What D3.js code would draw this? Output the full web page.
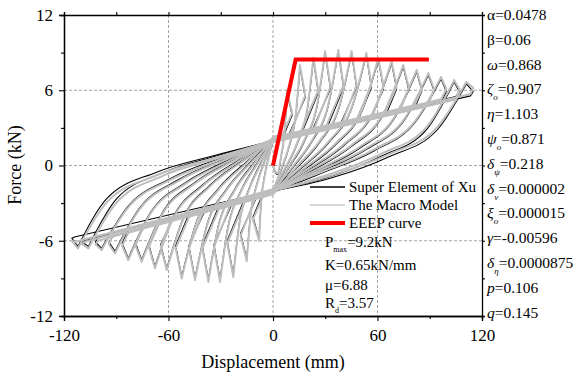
<!DOCTYPE html>
<html>
<head>
<meta charset="utf-8">
<script src="https://cdn.jsdelivr.net/npm/d3@7"></script>
<style>
  body { margin: 0; background: #fff; }
  svg { font-family: "Liberation Serif", "Times New Roman", serif; }
</style>
</head>
<body>
<svg id="chart" width="584" height="376"></svg>
<script>
// displacement of each cycle's force peak and of its turning point (mm)
var tipDispPos = [8.0, 15.5, 23.2, 29.9, 37.5, 45.1, 53.6, 60.5, 68.1, 74.8, 82.5, 89.2, 96.5, 104.0, 111.0];
var ampPos = [11.0, 18.5, 26.0, 33.0, 40.5, 48.0, 56.5, 63.5, 71.0, 78.0, 85.5, 92.5, 99.5, 107.0, 115.0];
var tipDispNeg = [-8.0, -15.1, -22.8, -30.4, -37.1, -44.8, -52.4, -61.0, -67.8, -75.4, -83.1, -90.7, -98.4, -106.0, -112.0];
var ampNeg = [-11.5, -18.6, -26.3, -33.9, -40.6, -48.3, -55.9, -64.5, -71.3, -78.9, -86.6, -94.2, -101.9, -109.5, -115.5];
// where unloading joins the pinched band (mm)
var unloadDispPos = [5.2, 9.0, 16.0, 22.8, 30.7, 39.0, 48.3, 56.4, 64.6, 72.6, 81.2, 88.9, 96.6, 104.9, 113.4];
var unloadDispNeg = [-5.8, -9.6, -16.3, -23.8, -31.0, -39.6, -48.1, -58.1, -65.7, -74.5, -83.1, -91.9, -100.5, -108.5, -114.0];
// reloading branch sampled at these fractions of the peak displacement
var reloadFrac = [0.3, 0.6, 0.85];

// The Macro Model (gray)
var macroPeakPos = [6.0, 8.0, 8.6, 9.1, 9.2, 9.1, 8.95, 8.55, 8.3, 8.0, 7.6, 7.35, 7.05, 6.8, 6.65];
var macroPeakNeg = [-6.0, -7.6, -8.87, -9.26, -9.26, -9.13, -9.0, -8.33, -8.2, -7.67, -7.54, -7.0, -6.74, -6.6, -6.6];
var macroEndPos = [4.2, 5.6, 6.0, 6.3, 6.4, 6.4, 6.4, 6.3, 6.3, 6.2, 6.1, 6.1, 6.1, 6.1, 6.2];
var macroEndNeg = [-4.3, -5.6, -6.2, -6.5, -6.6, -6.6, -6.6, -6.5, -6.5, -6.4, -6.4, -6.3, -6.3, -6.3, -6.0];
var macroReloadPos = [[-0.64, 0.88, 2.96], [-0.3, 1.6, 4.2], [-0.2, 1.82, 4.57], [-0.11, 2.0, 4.88], [-0.1, 2.03, 4.94],
  [-0.11, 2.0, 4.88], [-0.14, 1.94, 4.79], [-0.21, 1.8, 4.54], [-0.25, 1.71, 4.39], [-0.3, 1.6, 4.2],
  [-0.37, 1.46, 3.95], [-0.41, 1.37, 3.8], [-0.46, 1.26, 3.61], [-0.75, 0.95, 3.1], [-0.8, 0.9, 3.05]];
var macroReloadNeg = [[0.64, -0.88, -2.96], [0.37, -1.46, -3.95], [0.15, -1.91, -4.74], [0.09, -2.05, -4.98], [0.09, -2.05, -4.98],
  [0.11, -2.01, -4.9], [0.13, -1.96, -4.82], [0.24, -1.72, -4.4], [0.27, -1.67, -4.32], [0.36, -1.48, -4.0],
  [0.38, -1.43, -3.91], [0.47, -1.24, -3.58], [0.51, -1.15, -3.42], [0.58, -0.85, -3.0], [0.6, -0.8, -2.9]];
var macroUnloadPos = [2.35, 2.2, 2.7, 2.65, 3.2, 3.15, 3.75, 3.7, 4.27, 4.22, 4.8, 4.75, 5.29, 5.26, 5.7];
var macroUnloadNeg = [-2.5, -2.4, -2.9, -2.9, -3.45, -3.5, -4.08, -4.18, -4.73, -4.8, -5.37, -5.45, -6.0, -6.1, -6.1];
var macroPinchPos = [2.2, 2.0, 2.3, 2.0, 2.25, 1.95, 2.2, 1.9, 2.15, 1.9, 2.1, 1.85, 2.05, 1.9, 2.0];
var macroPinchNeg = [-2.1, -1.9, -2.2, -2.0, -2.3, -2.0, -2.2, -1.95, -2.15, -2.0, -2.1, -1.9, -2.05, -2.0, -2.0];

// Super Element of Xu (black)
var xuPeakPos = [5.85, 7.85, 8.45, 8.95, 9.05, 8.95, 8.8, 8.4, 8.15, 7.85, 7.45, 7.2, 6.9, 6.65, 6.5];
var xuPeakNeg = [-5.85, -7.45, -8.7, -9.1, -9.1, -8.98, -8.85, -8.2, -8.05, -7.52, -7.4, -6.85, -6.6, -6.45, -6.45];
var xuEndPos = [4.0, 5.4, 5.8, 6.1, 6.2, 6.2, 6.2, 6.1, 6.1, 6.0, 5.95, 5.95, 5.9, 5.9, 5.9];
var xuEndNeg = [-4.1, -5.4, -6.0, -6.3, -6.4, -6.4, -6.4, -6.3, -6.3, -6.2, -6.2, -6.1, -6.1, -6.1, -5.8];
var xuReloadPos = [[-0.74, 0.78, 2.86], [-0.4, 1.5, 4.1], [-0.3, 1.72, 4.47], [-0.21, 1.9, 4.78], [-0.2, 1.93, 4.84],
  [-0.21, 1.9, 4.78], [-0.24, 1.84, 4.69], [-0.31, 1.7, 4.44], [-0.35, 1.61, 4.29], [-0.4, 1.5, 4.1],
  [-0.47, 1.36, 3.85], [-0.51, 1.27, 3.7], [-0.56, 1.16, 3.51], [-0.95, 0.75, 2.9], [-1.0, 0.7, 2.85]];
var xuReloadNeg = [[0.74, -0.78, -2.86], [0.47, -1.36, -3.85], [0.25, -1.81, -4.64], [0.19, -1.95, -4.88], [0.19, -1.95, -4.88],
  [0.21, -1.91, -4.8], [0.23, -1.86, -4.72], [0.34, -1.62, -4.3], [0.37, -1.57, -4.22], [0.46, -1.38, -3.9],
  [0.48, -1.33, -3.81], [0.57, -1.14, -3.48], [0.61, -1.05, -3.32], [0.78, -0.6, -2.7], [0.8, -0.55, -2.6]];
var xuUnloadPos = [2.1, 2.45, 2.4, 2.9, 2.88, 3.4, 3.45, 3.95, 3.97, 4.45, 4.5, 5.0, 5.0, 5.5, 5.55];
var xuUnloadNeg = [-2.25, -2.6, -2.65, -3.15, -3.2, -3.75, -3.8, -4.4, -4.45, -5.0, -5.1, -5.65, -5.75, -6.0, -5.7];
var xuPinchPos = [1.9, 2.1, 1.95, 2.2, 1.9, 2.15, 1.95, 2.1, 1.9, 2.05, 1.95, 2.1, 1.9, 2.0, 1.95];
var xuPinchNeg = [-1.95, -2.2, -2.0, -2.25, -1.95, -2.15, -2.0, -2.1, -1.95, -2.1, -2.0, -2.15, -1.95, -2.05, -2.0];

// EEEP curve
var eeepDisp = [0, 13.0, 89.5];
var eeepForce = [0, 8.45, 8.45];

var xTicks = [-120, -60, 0, 60, 120];
var xMinor = [-90, -30, 30, 90];
var yTicks = [-12, -6, 0, 6, 12];
var yMinor = [-9, -3, 3, 9];

var paramSymbols = ["α", "β", "ω", "ζ", "η", "ψ", "δ", "δ", "ξ", "γ", "δ", "p", "q"];
var paramSubs = ["", "", "", "o", "", "o", "ψ", "ν", "o", "", "η", "", ""];
var paramValues = ["=0.0478", "=0.06", "=0.868", "=0.907", "=1.103", "=0.871", "=0.218", "=0.000002",
  "=0.000015", "=-0.00596", "=0.0000875", "=0.106", "=0.145"];
var paramItalic = [false, false, true, true, true, true, true, true, true, true, true, true, true];

var statSymbols = ["P", "K", "μ", "R"];
var statSubs = ["max", "", "", "d"];
var statValues = ["=9.2kN", "=0.65kN/mm", "=6.88", "=3.57"];

var legendLabels = ["Super Element of Xu", "The Macro Model", "EEEP curve"];

var svg = d3.select("#chart");
var x = d3.scaleLinear().domain([-120, 120]).range([64, 482]);
var y = d3.scaleLinear().domain([-12, 12]).range([316, 15]);

// grid
var grid = svg.append("g").attr("stroke", "#8c8c8c").attr("stroke-width", 0.8).attr("stroke-dasharray", "3,2");
grid.selectAll(".gx").data([-60, 0, 60]).enter().append("line")
  .attr("x1", function(d){ return x(d); }).attr("x2", function(d){ return x(d); })
  .attr("y1", y(12)).attr("y2", y(-12));
grid.selectAll(".gy").data([-6, 0, 6]).enter().append("line")
  .attr("y1", function(d){ return y(d); }).attr("y2", function(d){ return y(d); })
  .attr("x1", x(-120)).attr("x2", x(120));

var smooth = d3.line().x(function(d){ return x(d[0]); }).y(function(d){ return y(d[1]); }).curve(d3.curveMonotoneX);
var straight = d3.line().x(function(d){ return x(d[0]); }).y(function(d){ return y(d[1]); });

function drawModel(m, color, width) {
  var g = svg.append("g").attr("fill", "none").attr("stroke", color).attr("stroke-width", width)
    .attr("stroke-linejoin", "round").attr("stroke-linecap", "round");
  tipDispPos.forEach(function(tp, k) {
    var tn = tipDispNeg[k];
    var start = k === 0 ? 0 : m.pinchNeg[k - 1];
    var rp = m.reloadPos[k], rn = m.reloadNeg[k];

    // positive half: reload to peak, post-peak drop, unload to band, band back to zero
    var upPos = [[0, start]];
    reloadFrac.forEach(function(f, j){ upPos.push([f * tp, rp[j]]); });
    upPos.push([tp, m.peakPos[k]]);
    g.append("path").attr("d", smooth(upPos));
    g.append("path").attr("d", straight([[tp, m.peakPos[k]], [ampPos[k], m.endPos[k]],
      [unloadDispPos[k], m.unloadPos[k]], [0, m.pinchPos[k]]]));

    // negative half
    var upNeg = [[tn, m.peakNeg[k]]];
    for (var j = reloadFrac.length - 1; j >= 0; j--) upNeg.push([reloadFrac[j] * tn, rn[j]]);
    upNeg.push([0, m.pinchPos[k]]);
    g.append("path").attr("d", smooth(upNeg));
    g.append("path").attr("d", straight([[tn, m.peakNeg[k]], [ampNeg[k], m.endNeg[k]],
      [unloadDispNeg[k], m.unloadNeg[k]], [0, m.pinchNeg[k]]]));
  });
}

drawModel({peakPos: xuPeakPos, peakNeg: xuPeakNeg, endPos: xuEndPos, endNeg: xuEndNeg,
  reloadPos: xuReloadPos, reloadNeg: xuReloadNeg, unloadPos: xuUnloadPos, unloadNeg: xuUnloadNeg,
  pinchPos: xuPinchPos, pinchNeg: xuPinchNeg}, "#000", 1.1);
drawModel({peakPos: macroPeakPos, peakNeg: macroPeakNeg, endPos: macroEndPos, endNeg: macroEndNeg,
  reloadPos: macroReloadPos, reloadNeg: macroReloadNeg, unloadPos: macroUnloadPos, unloadNeg: macroUnloadNeg,
  pinchPos: macroPinchPos, pinchNeg: macroPinchNeg}, "#bebebe", 2.0);

// EEEP
svg.append("path")
  .attr("d", straight(eeepDisp.map(function(d, i){ return [d, eeepForce[i]]; })))
  .attr("fill", "none").attr("stroke", "#ff0000").attr("stroke-width", 4);

// axes
var plain = function(d){ return String(d); };
function styleAxis(g) {
  g.select(".domain").attr("stroke", "#000").attr("stroke-width", 1.3);
  g.selectAll(".tick line").attr("stroke", "#000").attr("stroke-width", 1.1);
  g.selectAll("text").attr("font-size", 17).attr("font-family", "Liberation Serif, serif").attr("fill", "#000");
}
svg.append("g").attr("transform", "translate(0,316)")
  .call(d3.axisBottom(x).tickValues(xTicks).tickSize(5).tickPadding(8).tickFormat(plain)).call(styleAxis);
svg.append("g").attr("transform", "translate(0,316)")
  .call(d3.axisBottom(x).tickValues(xMinor).tickSize(3).tickFormat("")).call(styleAxis);
svg.append("g").attr("transform", "translate(0,15)")
  .call(d3.axisTop(x).tickValues(xTicks.concat(xMinor)).tickSize(3).tickFormat("")).call(styleAxis);
svg.append("g").attr("transform", "translate(64,0)")
  .call(d3.axisLeft(y).tickValues(yTicks).tickSize(5).tickPadding(6).tickFormat(plain)).call(styleAxis);
svg.append("g").attr("transform", "translate(64,0)")
  .call(d3.axisLeft(y).tickValues(yMinor).tickSize(3).tickFormat("")).call(styleAxis);
svg.append("g").attr("transform", "translate(482,0)")
  .call(d3.axisRight(y).tickValues(yTicks.concat(yMinor)).tickSize(3).tickFormat("")).call(styleAxis);

// axis titles
svg.append("text").attr("x", 273).attr("y", 368).attr("text-anchor", "middle")
  .attr("font-size", 18).text("Displacement (mm)");
svg.append("text").attr("transform", "translate(21,165) rotate(-90)").attr("text-anchor", "middle")
  .attr("font-size", 18).text("Force (kN)");

// legend
var legendColors = ["#000", "#c8c8c8", "#ff0000"];
var legendWidths = [1.3, 1.6, 4];
legendLabels.forEach(function(t, i) {
  var ly = 187 + i * 18;
  svg.append("line").attr("x1", 310).attr("x2", 345).attr("y1", ly).attr("y2", ly)
    .attr("stroke", legendColors[i]).attr("stroke-width", legendWidths[i]);
  svg.append("text").attr("x", 349).attr("y", ly + 5).attr("font-size", 15).text(t);
});

// stats
var statBase = [247, 270, 290, 308];
statSymbols.forEach(function(s, i) {
  var t = svg.append("text").attr("x", 325).attr("y", statBase[i]).attr("font-size", 15);
  t.append("tspan").text(s);
  if (statSubs[i]) {
    t.append("tspan").attr("font-size", 8).attr("dy", 5).text(statSubs[i]);
    t.append("tspan").attr("dy", -5).text(statValues[i]);
  } else {
    t.append("tspan").text(statValues[i]);
  }
});

// model parameters on the right
paramSymbols.forEach(function(s, i) {
  var t = svg.append("text").attr("x", 487).attr("y", 20 + i * 24.8).attr("font-size", 15.5);
  t.append("tspan").attr("font-style", paramItalic[i] ? "italic" : "normal").text(s);
  if (paramSubs[i]) {
    t.append("tspan").attr("font-size", 9).attr("font-style", "italic").attr("dy", 6).text(paramSubs[i]);
    t.append("tspan").attr("dy", -6).text(paramValues[i]);
  } else {
    t.append("tspan").text(paramValues[i]);
  }
});
</script>
</body>
</html>
